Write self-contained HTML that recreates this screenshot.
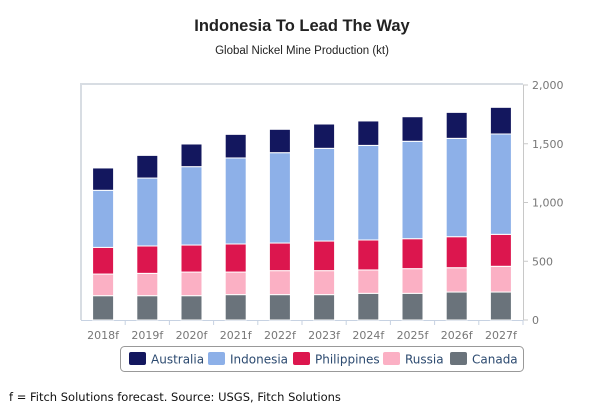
<!DOCTYPE html>
<html><head><meta charset="utf-8"><style>
body{margin:0;background:#fff;font-family:"DejaVu Sans","Liberation Sans",sans-serif;}
#wrap{position:relative;width:604px;height:418px;overflow:hidden;}
.t{position:absolute;white-space:nowrap;}
</style></head><body>
<div id="wrap">
<div class="t" style="left:0;width:604px;top:17px;text-align:center;font-family:'Liberation Sans',sans-serif;font-size:16.5px;font-weight:bold;color:#222;">Indonesia To Lead The Way</div>
<div class="t" style="left:0;width:604px;top:45px;text-align:center;font-family:'Liberation Sans',sans-serif;font-size:11.5px;color:#222;">Global Nickel Mine Production (kt)</div>
<svg id="svg" width="604" height="418" style="position:absolute;left:0;top:0"></svg>
<div class="t" style="left:9px;top:390px;font-size:11.5px;color:#111;">f = Fitch Solutions forecast. Source: USGS, Fitch Solutions</div>
</div>
<script>
const categories=["2018f","2019f","2020f","2021f","2022f","2023f","2024f","2025f","2026f","2027f"];
const canada=[207,207,207,216,216,216,227,227,238,238];
const russia=[184,190,201,192,204,204,199,210,207,219];
const philippines=[227,233,230,239,235,252,255,255,264,272];
const indonesia=[486,578,667,732,769,789,805,829,837,854];
const australia=[190,193,193,201,199,207,208,209,221,227];
const yTicks=[0,500,1000,1500,2000];
const yTickLabels=["0","500","1,000","1,500","2,000"];
const seriesNames=["Canada","Russia","Philippines","Indonesia","Australia"];
const seriesColors=["#6a737b","#fbb0c4","#dc164e","#8db0e8","#13175e"];
const seriesData=[canada,russia,philippines,indonesia,australia];

const NS="http://www.w3.org/2000/svg";
const svg=document.getElementById('svg');
const L=81,R=523,T=85,B=320;
const y=v=>B-(v/2000)*(B-T);
const band=(R-L)/categories.length;
const x=i=>L+band*i+band/2;
function mk(tag,attrs){const e=document.createElementNS(NS,tag);for(const k in attrs)e.setAttribute(k,attrs[k]);svg.appendChild(e);return e;}
let f=mk('path',{d:`M${L},${B}V${T-1}H${R}`,fill:'none',stroke:'#d8dde3','stroke-width':2});


let ax=mk('line',{x1:L,x2:R,y1:B+0.5,y2:B+0.5,stroke:'#c7d2e2'});


let ay=mk('line',{x1:R+0.5,x2:R+0.5,y1:T,y2:B,stroke:'#c8c8c8'});


yTicks.forEach((v,i)=>{
  let tk=mk('line',{x1:R,x2:R+5,y1:y(v),y2:y(v),stroke:'#c8c8c8'});
  
  
  let t=mk('text',{x:R+9,y:y(v)+4,'font-size':11,fill:'#777','font-family':'DejaVu Sans, Liberation Sans, sans-serif'});
  t.textContent=yTickLabels[i];
  
  
});
categories.forEach((c,i)=>{
  let tk=mk('line',{x1:L+band*(i+1),x2:L+band*(i+1),y1:B,y2:B+5,stroke:'#c7d2e2'});
  
  
  let t=mk('text',{x:x(i),y:B+19,'font-size':11,fill:'#777','text-anchor':'middle','font-family':'DejaVu Sans, Liberation Sans, sans-serif'});
  t.textContent=c;
  
  
  let cum=0;
  seriesData.forEach((s,k)=>{
    const v=s[i];
    let r=mk('rect',{x:x(i)-10.5,width:21,y:y(cum+v),height:y(cum)-y(cum+v),fill:seriesColors[k],stroke:'#fff','stroke-width':1});
    
    
    cum+=v;
  });
});
let lb=mk('rect',{x:120.5,y:346.5,width:403,height:25,rx:4,fill:'#fff',stroke:'#999'});


const legOrder=[4,3,2,1,0];
const legX=[129,208,293,383,450];
legOrder.forEach((k,j)=>{
  let sw=mk('rect',{x:legX[j],y:352,width:17,height:13,rx:2,fill:seriesColors[k]});
  
  
  let t=mk('text',{x:legX[j]+22,y:363.5,'font-size':12,fill:'#2c4a70','font-family':'DejaVu Sans, Liberation Sans, sans-serif'});
  t.textContent=seriesNames[k];
  
  
});
</script>
</body></html>
